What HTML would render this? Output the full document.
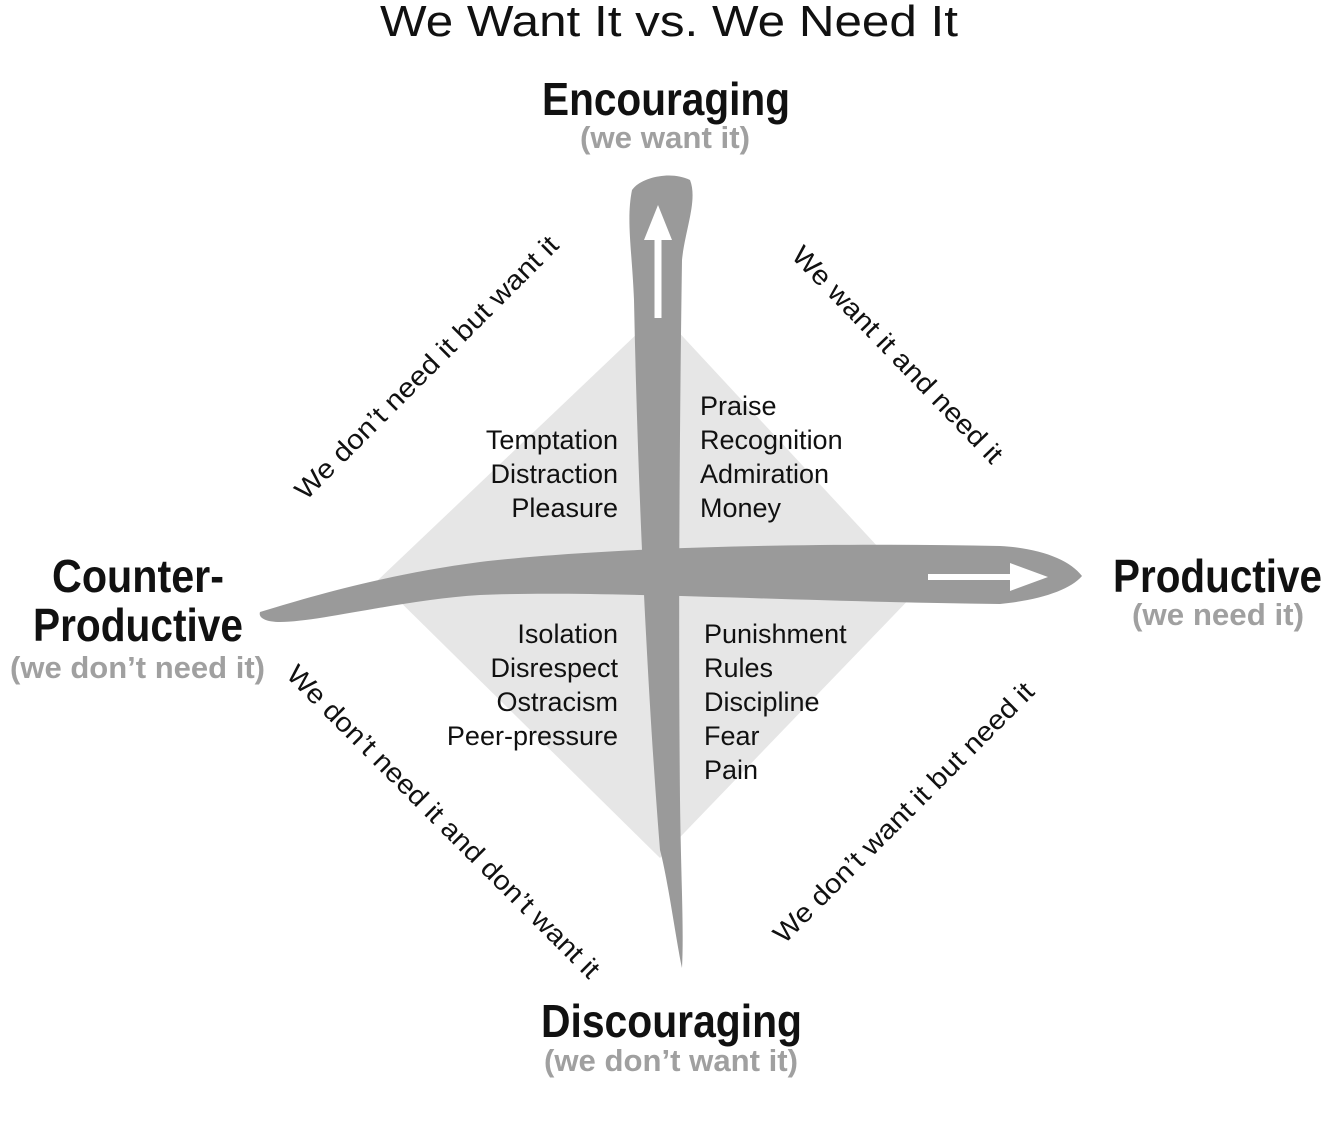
<!DOCTYPE html>
<html><head><meta charset="utf-8"><style>
html,body{margin:0;padding:0;background:#fff;}
svg{display:block;}
text{font-family:"Liberation Sans",sans-serif;}
</style></head><body>
<svg width="1336" height="1122" viewBox="0 0 1336 1122" xmlns="http://www.w3.org/2000/svg">
<text x="380" y="36" font-size="44" textLength="578" lengthAdjust="spacingAndGlyphs" fill="#111">We Want It vs. We Need It</text>

<polygon points="660,312 918,590 660,858 378,580" fill="#e6e6e6"/>

<path d="M632,190 C640,178 670,170 690,180 C698,200 685,230 682,260 C680,400 678,600 680,800 C681,880 684,930 682,968 C676,940 668,880 660,850 C648,700 638,500 634,300 C632,250 626,220 632,190 Z" fill="#9a9a9a"/>
<path d="M260,612 C300,600 380,575 480,562 C600,548 800,542 1000,546 C1040,548 1070,560 1082,576 C1070,590 1040,600 1000,604 C800,602 600,590 480,595 C400,600 320,622 280,622 C266,622 258,618 260,612 Z" fill="#9a9a9a"/>
<line x1="658" y1="318" x2="658" y2="230" stroke="#fff" stroke-width="7"/>
<polygon points="644,240 658,205 672,240" fill="#fff"/>
<line x1="928" y1="577" x2="1020" y2="577" stroke="#fff" stroke-width="6"/>
<polygon points="1010,563 1048,577 1010,591" fill="#fff"/>

<g font-weight="bold">
<text x="542" y="115" font-size="46" textLength="248" lengthAdjust="spacingAndGlyphs" fill="#111">Encouraging</text>
<text x="580" y="148" font-size="31" textLength="170" lengthAdjust="spacingAndGlyphs" fill="#a0a0a0">(we want it)</text>
<text x="541" y="1037" font-size="46" textLength="261" lengthAdjust="spacingAndGlyphs" fill="#111">Discouraging</text>
<text x="544" y="1071" font-size="31" textLength="254" lengthAdjust="spacingAndGlyphs" fill="#a0a0a0">(we don’t want it)</text>
<text x="1113" y="592" font-size="46" textLength="209" lengthAdjust="spacingAndGlyphs" fill="#111">Productive</text>
<text x="1132" y="625" font-size="31" textLength="172" lengthAdjust="spacingAndGlyphs" fill="#a0a0a0">(we need it)</text>
<text x="52" y="592" font-size="46" textLength="172" lengthAdjust="spacingAndGlyphs" fill="#111">Counter-</text>
<text x="33" y="641" font-size="46" textLength="210" lengthAdjust="spacingAndGlyphs" fill="#111">Productive</text>
<text x="10" y="678" font-size="31" textLength="255" lengthAdjust="spacingAndGlyphs" fill="#a0a0a0">(we don’t need it)</text>
</g>

<g font-size="27" fill="#111">
<g text-anchor="end">
<text x="618" y="449">Temptation</text>
<text x="618" y="483">Distraction</text>
<text x="618" y="517">Pleasure</text>
<text x="618" y="643">Isolation</text>
<text x="618" y="677">Disrespect</text>
<text x="618" y="711">Ostracism</text>
<text x="618" y="745">Peer-pressure</text>
</g>
<text x="700" y="415">Praise</text>
<text x="700" y="449">Recognition</text>
<text x="700" y="483">Admiration</text>
<text x="700" y="517">Money</text>
<text x="704" y="643">Punishment</text>
<text x="704" y="677">Rules</text>
<text x="704" y="711">Discipline</text>
<text x="704" y="745">Fear</text>
<text x="704" y="779">Pain</text>
</g>

<g font-size="27" fill="#111">
<text transform="translate(433,374) rotate(-45)" x="-180" textLength="360" lengthAdjust="spacingAndGlyphs">We don’t need it but want it</text>
<text transform="translate(891,361) rotate(46)" x="-145" textLength="290" lengthAdjust="spacingAndGlyphs">We want it and need it</text>
<text transform="translate(437,828) rotate(45)" x="-215" textLength="430" lengthAdjust="spacingAndGlyphs">We don’t need it and don’t want it</text>
<text transform="translate(910,819) rotate(-45)" x="-178" textLength="356" lengthAdjust="spacingAndGlyphs">We don’t want it but need it</text>
</g>
</svg>
</body></html>
